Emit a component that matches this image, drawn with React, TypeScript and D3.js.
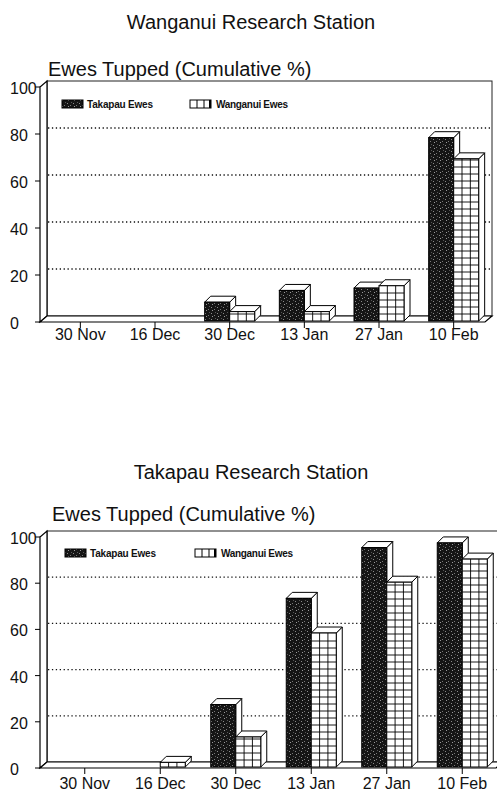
import React from 'react';
import * as d3 from 'd3';

// chart values
const categories = ['30 Nov', '16 Dec', '30 Dec', '13 Jan', '27 Jan', '10 Feb'];
const seriesNames = ['Takapau Ewes', 'Wanganui Ewes'];
const yTicks = [0, 20, 40, 60, 80, 100];
const gridTicks = [20, 40, 60, 80];

// Wanganui Research Station
const wanganuiStnTakapau = [0, 0, 8, 13, 14, 78];
const wanganuiStnWanganui = [0, 0, 4, 4, 15, 69];
// Takapau Research Station
const takapauStnTakapau = [0, 0, 27, 73, 95, 97];
const takapauStnWanganui = [0, 2, 13, 58, 80, 90];

const FONT = '"Liberation Sans", Arial, Helvetica, sans-serif';
const WALL_DX = 7;
const WALL_DY = 6;
const BAR_DX = 6;
const BAR_DY = 6;
const AXIS_X = 40;

type Layout = {
  titleY: number;
  subX: number;
  subY: number;
  legendY: number;
  sw1X: number;
  sw2X: number;
  y0: number;
  y100: number;
  xRange: [number, number];
  wallRight: number;
  labelDy: number;
};

const topLayout: Layout = {
  titleY: 29, subX: 48, subY: 76, legendY: 100, sw1X: 62, sw2X: 190,
  y0: 322, y100: 87, xRange: [43, 491], wallRight: 492, labelDy: 18,
};
const bottomLayout: Layout = {
  titleY: 479, subX: 52, subY: 521, legendY: 549, sw1X: 65, sw2X: 195,
  y0: 768, y100: 537, xRange: [47, 500], wallRight: 503, labelDy: 21,
};

const Bar3D: React.FC<{ x: number; w: number; yTop: number; yBot: number; kind: number }> = ({ x, w, yTop, yBot, kind }) => {
  const top = `${x},${yTop} ${x + BAR_DX},${yTop - BAR_DY} ${x + w + BAR_DX},${yTop - BAR_DY} ${x + w},${yTop}`;
  const side = `${x + w},${yTop} ${x + w + BAR_DX},${yTop - BAR_DY} ${x + w + BAR_DX},${yBot - BAR_DY} ${x + w},${yBot}`;
  const hLines: number[] = [];
  if (kind === 1) {
    for (let yy = yBot - 7; yy > yTop + 1; yy -= 7) hLines.push(yy);
  }
  return (
    <g stroke="#000" strokeWidth={1}>
      <polygon points={side} fill="#fff" />
      <polygon points={top} fill="#fff" />
      <rect x={x} y={yTop} width={w} height={yBot - yTop} fill={kind === 0 ? 'url(#stipple)' : '#fff'} />
      {kind === 1 && (
        <g strokeWidth={0.9}>
          <line x1={x + w / 3} x2={x + w / 3} y1={yTop} y2={yBot} />
          <line x1={x + (2 * w) / 3} x2={x + (2 * w) / 3} y1={yTop} y2={yBot} />
          {hLines.map((yy, i) => <line key={i} x1={x} x2={x + w} y1={yy} y2={yy} />)}
        </g>
      )}
    </g>
  );
};

const Panel: React.FC<{ title: string; takapau: number[]; wanganui: number[]; L: Layout }> = ({ title, takapau, wanganui, L }) => {
  const y = d3.scaleLinear().domain([0, 100]).range([L.y0, L.y100]);
  const x = d3.scaleBand<string>().domain(categories).range(L.xRange);
  const inner = d3.scaleBand<string>().domain(seriesNames).range([-25, 25]);
  const wallL = AXIS_X + WALL_DX;
  const wallTop = y(100) - WALL_DY;
  const wallBot = L.y0 - WALL_DY;
  const values = [takapau, wanganui];

  return (
    <g fontFamily={FONT} fill="#111">
      <text x={251} y={L.titleY} fontSize={20} textAnchor="middle">{title}</text>
      <text x={L.subX} y={L.subY} fontSize={20}>Ewes Tupped (Cumulative %)</text>

      {/* back wall and grid */}
      <rect x={wallL} y={wallTop} width={L.wallRight - wallL} height={wallBot - wallTop} fill="#fff" stroke="#222" strokeWidth={1} />
      {gridTicks.map(t => (
        <line key={t} x1={wallL + 1} x2={L.wallRight - 1} y1={y(t) - WALL_DY} y2={y(t) - WALL_DY}
          stroke="#111" strokeWidth={1.3} strokeDasharray="1.3 2.6" />
      ))}
      {/* left side wall */}
      <polygon points={`${AXIS_X},${L.y0} ${AXIS_X},${y(100)} ${wallL},${wallTop} ${wallL},${wallBot}`} fill="#fff" stroke="#000" strokeWidth={1.2} />
      {/* floor */}
      <polygon points={`${AXIS_X},${L.y0} ${L.wallRight - WALL_DX},${L.y0} ${L.wallRight},${wallBot} ${wallL},${wallBot}`} fill="#fff" stroke="#000" strokeWidth={1.2} />

      {/* legend */}
      <rect x={L.sw1X} y={L.legendY} width={21} height={8} fill="url(#stipple)" stroke="#000" />
      <text x={L.sw1X + 25} y={L.legendY + 8} fontSize={10} fontWeight="bold" textLength={66}>{seriesNames[0]}</text>
      <g stroke="#000" strokeWidth={1}>
        <rect x={L.sw2X} y={L.legendY} width={21} height={8} fill="#fff" />
        <line x1={L.sw2X + 7} x2={L.sw2X + 7} y1={L.legendY} y2={L.legendY + 8} />
        <line x1={L.sw2X + 14} x2={L.sw2X + 14} y1={L.legendY} y2={L.legendY + 8} />
        <line x1={L.sw2X + 20} x2={L.sw2X + 20} y1={L.legendY} y2={L.legendY + 8} strokeWidth={2} />
      </g>
      <text x={L.sw2X + 26} y={L.legendY + 8} fontSize={10} fontWeight="bold" textLength={72}>{seriesNames[1]}</text>

      {/* bars */}
      {categories.map((c, i) => {
        const cx = (x(c) ?? 0) + x.bandwidth() / 2;
        return (
          <g key={c}>
            {seriesNames.map((s, k) => {
              const v = values[k][i];
              if (!v) return null;
              return (
                <Bar3D key={s} x={cx + (inner(s) ?? 0)} w={inner.bandwidth()} yTop={y(v) - 1} yBot={L.y0 - 1} kind={k} />
              );
            })}
          </g>
        );
      })}

      {/* y axis */}
      {yTicks.map(t => (
        <g key={t}>
          <line x1={AXIS_X - 5} x2={AXIS_X} y1={y(t)} y2={y(t)} stroke="#000" />
          <text x={10} y={y(t) + 7} fontSize={16}>{t}</text>
        </g>
      ))}
      {/* x axis */}
      {categories.map(c => {
        const cx = (x(c) ?? 0) + x.bandwidth() / 2;
        return (
          <g key={c}>
            <line x1={cx} x2={cx} y1={L.y0} y2={L.y0 + 6} stroke="#000" />
            <text x={cx} y={L.y0 + L.labelDy} fontSize={16} textAnchor="middle">{c}</text>
          </g>
        );
      })}
    </g>
  );
};

export default function App() {
  return (
    <svg width={497} height={791} style={{ position: 'absolute', left: 0, top: 0, background: '#fff' }}>
      <defs>
        <pattern id="stipple" width={6} height={6} patternUnits="userSpaceOnUse">
          <rect width={6} height={6} fill="#151515" />
          <rect x={1} y={1} width={1} height={1} fill="#8a8a8a" />
          <rect x={4} y={3} width={1} height={1} fill="#777" />
          <rect x={2} y={4} width={1} height={1} fill="#999" />
          <rect x={5} y={0} width={1} height={1} fill="#555" />
        </pattern>
      </defs>
      <rect width={497} height={791} fill="#fff" />
      <Panel title="Wanganui Research Station" takapau={wanganuiStnTakapau} wanganui={wanganuiStnWanganui} L={topLayout} />
      <Panel title="Takapau Research Station" takapau={takapauStnTakapau} wanganui={takapauStnWanganui} L={bottomLayout} />
    </svg>
  );
}
